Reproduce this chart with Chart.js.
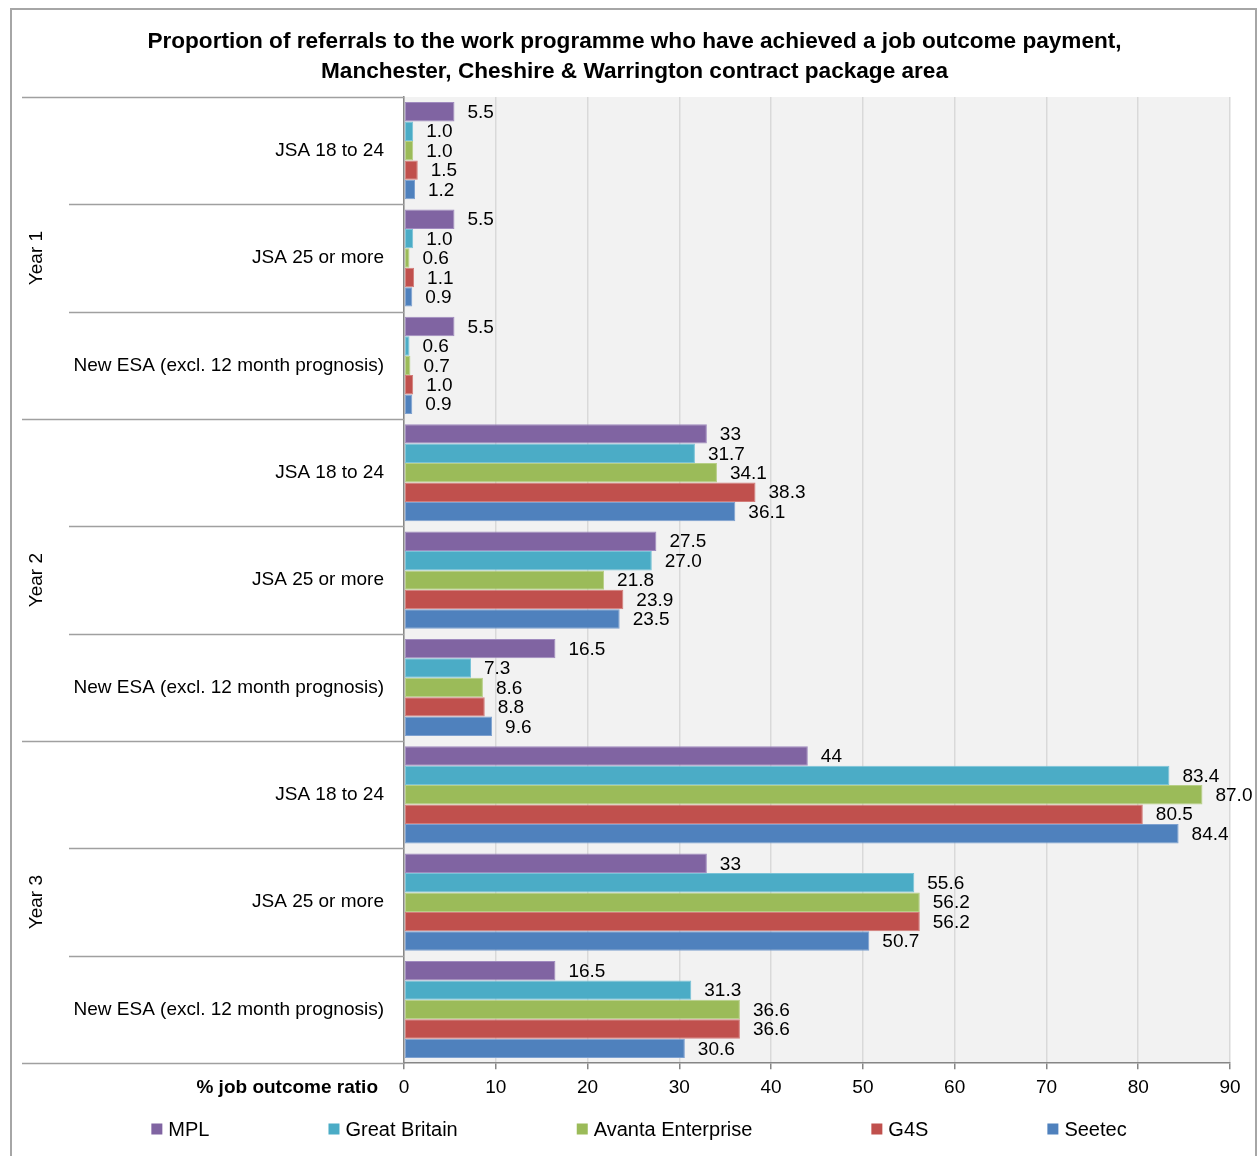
<!DOCTYPE html>
<html>
<head>
<meta charset="utf-8">
<title>Job outcome payments</title>
<script src="https://cdn.jsdelivr.net/npm/chart.js@4.4.0/dist/chart.umd.min.js"></script>
<style>
  html, body { margin: 0; padding: 0; background: #fff; }
  #wrap { width: 1258px; height: 1156px; position: relative; }
</style>
</head>
<body>
<div id="wrap"><canvas id="chart"></canvas></div>
<script>
const groups = ['JSA 18 to 24', 'JSA 25 or more', 'New ESA (excl. 12 month prognosis)'];
const years = ['Year 1', 'Year 2', 'Year 3'];
const categories = [].concat(groups, groups, groups);

// Year 1 (x3), Year 2 (x3), Year 3 (x3)
const mpl          = [5.5, 5.5, 5.5, 33, 27.5, 16.5, 44, 33, 16.5];
const greatBritain = [1.0, 1.0, 0.6, 31.7, 27.0, 7.3, 83.4, 55.6, 31.3];
const avanta       = [1.0, 0.6, 0.7, 34.1, 21.8, 8.6, 87.0, 56.2, 36.6];
const g4s          = [1.5, 1.1, 1.0, 38.3, 23.9, 8.8, 80.5, 56.2, 36.6];
const seetec       = [1.2, 0.9, 0.9, 36.1, 23.5, 9.6, 84.4, 50.7, 30.6];

const seriesNames = ['MPL', 'Great Britain', 'Avanta Enterprise', 'G4S', 'Seetec'];
const xTicks = [0, 10, 20, 30, 40, 50, 60, 70, 80, 90];

const colors  = ['#8064a2', '#4bacc6', '#9bbb59', '#c0504d', '#4f81bd'];
const borders = ['#a08bbf', '#79c3d7', '#b7cf86', '#d37d7a', '#7ea1d0'];

const FONT = "'Liberation Sans', Arial, sans-serif";
Chart.defaults.font.family = FONT;
Chart.defaults.color = '#000';

const X_TICK_LEN = 6, X_TICK_PAD = 7, TICK_SIZE = 19, LEGEND_SIZE = 20;

function fmt(dsIndex, v) {
  // MPL figures are printed as given, the others always with one decimal
  return dsIndex === 0 ? String(v) : v.toFixed(1);
}

const plotBackground = {
  id: 'plotBackground',
  beforeDraw(chart) {
    const { ctx, chartArea: a } = chart;
    ctx.save();
    ctx.fillStyle = '#f2f2f2';
    ctx.fillRect(a.left, a.top, a.right - a.left, a.bottom - a.top);
    ctx.restore();
  }
};

// category dividers, year captions, bar values, axis caption, legend and frame
const decorations = {
  id: 'decorations',
  afterDatasetsDraw(chart) {
    const ctx = chart.ctx;
    ctx.save();
    ctx.font = TICK_SIZE + 'px ' + FONT;
    ctx.fillStyle = '#000';
    ctx.textAlign = 'left';
    ctx.textBaseline = 'middle';
    chart.data.datasets.forEach((ds, i) => {
      chart.getDatasetMeta(i).data.forEach((bar, j) => {
        ctx.fillText(fmt(i, ds.data[j]), bar.x + 13, bar.y + 1);
      });
    });
    ctx.restore();
  },
  afterDraw(chart) {
    const { ctx, chartArea: a, scales } = chart;
    const y = scales.y, x = scales.x;
    ctx.save();

    // dividers between categories, longer ones between years
    ctx.strokeStyle = '#a0a0a0';
    ctx.lineWidth = 1.5;
    for (let k = 0; k <= categories.length; k++) {
      const py = Math.round(y.getPixelForValue(k - 0.5)) + 0.5;
      const x0 = k % 3 === 0 ? 22 : 69;
      ctx.beginPath();
      ctx.moveTo(x0, py);
      ctx.lineTo(a.left, py);
      ctx.stroke();
    }

    // year captions, rotated
    ctx.fillStyle = '#000';
    ctx.font = TICK_SIZE + 'px ' + FONT;
    ctx.textAlign = 'center';
    ctx.textBaseline = 'middle';
    years.forEach((yr, g) => {
      const cy = (y.getPixelForValue(g * 3 - 0.5) + y.getPixelForValue(g * 3 + 2.5)) / 2;
      ctx.save();
      ctx.translate(37, cy);
      ctx.rotate(-Math.PI / 2);
      ctx.fillText(yr, 0, 0);
      ctx.restore();
    });

    // value axis caption, on the tick label line
    const labelY = x.top + X_TICK_LEN + X_TICK_PAD + TICK_SIZE * 1.2 / 2;
    ctx.font = 'bold ' + TICK_SIZE + 'px ' + FONT;
    ctx.textAlign = 'right';
    ctx.fillText('% job outcome ratio', a.left - 26, labelY);

    // legend, one row centred under the chart
    ctx.font = LEGEND_SIZE + 'px ' + FONT;
    ctx.textAlign = 'left';
    const box = 11, gapText = 6, gapItem = 119;
    const widths = seriesNames.map(n => box + gapText + ctx.measureText(n).width);
    const total = widths.reduce((s, w) => s + w, 0) + gapItem * (widths.length - 1);
    let lx = chart.width / 2 - total / 2 + 10;
    const ly = chart.height - 27;
    seriesNames.forEach((n, i) => {
      ctx.fillStyle = colors[i];
      ctx.fillRect(lx, ly - box / 2, box, box);
      ctx.fillStyle = '#000';
      ctx.fillText(n, lx + box + gapText, ly + 1);
      lx += widths[i] + gapItem;
    });

    // outer frame
    ctx.strokeStyle = '#a6a6a6';
    ctx.lineWidth = 2;
    ctx.strokeRect(11, 9, chart.width - 13, chart.height + 20);
    ctx.restore();
  }
};

const datasets = [mpl, greatBritain, avanta, g4s, seetec].map((data, i) => ({
  label: seriesNames[i],
  data: data,
  backgroundColor: colors[i],
  borderColor: borders[i],
  borderWidth: 1,
  borderSkipped: false,
  categoryPercentage: 0.905,
  barPercentage: 1.0
}));

new Chart(document.getElementById('chart'), {
  type: 'bar',
  data: { labels: categories, datasets: datasets },
  options: {
    indexAxis: 'y',
    responsive: true,
    maintainAspectRatio: false,
    animation: false,
    layout: { padding: { left: 39, right: 28, top: 0, bottom: 50 } },
    plugins: {
      legend: { display: false },
      tooltip: { enabled: false },
      title: {
        display: true,
        text: ['Proportion of referrals to the work programme who have achieved a job outcome payment,',
               'Manchester, Cheshire & Warrington contract package area'],
        font: { size: 22.6, weight: 'bold', lineHeight: '30px' },
        color: '#000',
        padding: { top: 27, bottom: 10 }
      }
    },
    scales: {
      x: {
        min: 0,
        max: 90,
        afterBuildTicks(scale) { scale.ticks = xTicks.map(v => ({ value: v })); },
        ticks: { font: { size: TICK_SIZE }, color: '#000', padding: X_TICK_PAD },
        grid: { color: '#d9d9d9', lineWidth: 1.5, tickColor: '#868686', tickLength: X_TICK_LEN },
        border: { color: '#868686', width: 1.5 }
      },
      y: {
        afterFit(scale) { scale.width = 365; },
        ticks: { font: { size: TICK_SIZE }, color: '#000', padding: 12 },
        grid: { display: false },
        border: { color: '#868686', width: 1.5 }
      }
    }
  },
  plugins: [plotBackground, decorations]
});
</script>
</body>
</html>
